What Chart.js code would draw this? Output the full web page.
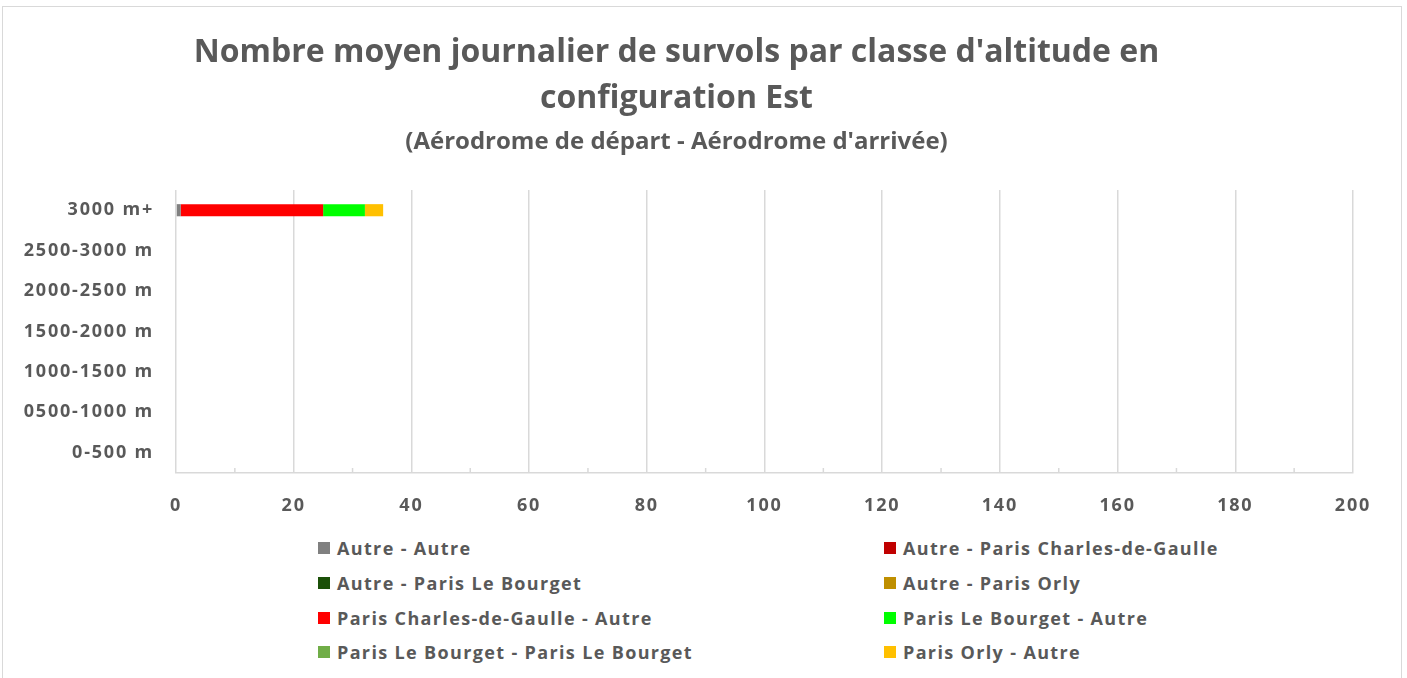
<!DOCTYPE html>
<html>
<head>
<meta charset="utf-8">
<script src="https://cdn.jsdelivr.net/npm/chart.js@4.4.0/dist/chart.umd.min.js"></script>
<style>
  body { margin: 0; background: #fff; font-family: 'Open Sans', sans-serif; }
  #wrap { position: relative; width: 1407px; height: 678px; overflow: hidden; }
  #frame { position: absolute; left: 2px; top: 6px; width: 1398px; height: 700px; border: 1px solid #d9d9d9; }
  #chart { position: absolute; left: 0; top: 0; }
  #legend { position: absolute; left: 318px; top: 531px; display: grid; grid-template-columns: 566px 440px; grid-auto-rows: 34.7px; }
  .item { display: flex; align-items: center; font: bold 18px 'Open Sans', sans-serif; letter-spacing: 1.35px; color: #595959; white-space: nowrap; }
  .box { width: 12px; height: 12px; margin-right: 7px; }
</style>
</head>
<body>
<div id="wrap">
  <div id="frame"></div>
  <canvas id="chart" width="1407" height="530"></canvas>
  <div id="legend"></div>
</div>
<script>
/* ===== Survols par classe d'altitude ===== */

const altitudeClasses = ['3000 m+', '2500-3000 m', '2000-2500 m', '1500-2000 m', '1000-1500 m', '0500-1000 m', '0-500 m'];

const seriesNames = [
  'Autre - Autre',
  'Autre - Paris Charles-de-Gaulle',
  'Autre - Paris Le Bourget',
  'Autre - Paris Orly',
  'Paris Charles-de-Gaulle - Autre',
  'Paris Le Bourget - Autre',
  'Paris Le Bourget - Paris Le Bourget',
  'Paris Orly - Autre'
];

const autreAutre        = [0.8, 0, 0, 0, 0, 0, 0];
const autreCdg          = [0, 0, 0, 0, 0, 0, 0];
const autreBourget      = [0, 0, 0, 0, 0, 0, 0];
const autreOrly         = [0, 0, 0, 0, 0, 0, 0];
const cdgAutre          = [24.2, 0, 0, 0, 0, 0, 0];
const bourgetAutre      = [7.1, 0, 0, 0, 0, 0, 0];
const bourgetBourget    = [0, 0, 0, 0, 0, 0, 0];
const orlyAutre         = [3.1, 0, 0, 0, 0, 0, 0];

const xTicks = [0, 20, 40, 60, 80, 100, 120, 140, 160, 180, 200];

const seriesValues = [autreAutre, autreCdg, autreBourget, autreOrly, cdgAutre, bourgetAutre, bourgetBourget, orlyAutre];
const seriesColors = ['#808080', '#c00000', '#1b5008', '#bf8f00', '#ff0000', '#00ff00', '#70ad47', '#ffc000'];

const textColor = '#595959';
const gridColor = '#d9d9d9';
const fontName = 'Open Sans';

// petits traits secondaires sur l'axe + espacement des lettres des graduations
const axisExtras = {
  id: 'axisExtras',
  afterDatasetsDraw(chart) {
    chart.ctx.letterSpacing = '1.8px';
  },
  afterDraw(chart) {
    const x = chart.scales.x;
    const ctx = chart.ctx;
    const bottom = chart.chartArea.bottom;
    ctx.letterSpacing = '0px';
    ctx.save();
    ctx.strokeStyle = gridColor;
    ctx.lineWidth = 1.5;
    for (let i = 0; i < xTicks.length - 1; i++) {
      const px = x.getPixelForValue((xTicks[i] + xTicks[i + 1]) / 2);
      ctx.beginPath();
      ctx.moveTo(px, bottom);
      ctx.lineTo(px, bottom - 5);
      ctx.stroke();
    }
    ctx.restore();
  }
};

const chart = new Chart(document.getElementById('chart').getContext('2d'), {
  type: 'bar',
  data: {
    labels: altitudeClasses,
    datasets: seriesNames.map((name, i) => ({
      label: name,
      data: seriesValues[i],
      backgroundColor: seriesColors[i],
      borderWidth: 0,
      barPercentage: 0.3,
      categoryPercentage: 1
    }))
  },
  options: {
    indexAxis: 'y',
    responsive: false,
    animation: false,
    devicePixelRatio: 1,
    layout: { padding: { left: 0, right: 54, top: 0, bottom: 0 } },
    scales: {
      x: {
        stacked: true,
        min: 0,
        max: 200,
        afterBuildTicks: scale => { scale.ticks = xTicks.map(v => ({ value: v })); },
        afterFit: scale => { scale.height = 57; },
        grid: { color: gridColor, lineWidth: 1.5, drawTicks: false },
        border: { display: true, color: gridColor, width: 1.5 },
        ticks: { z: 1, color: textColor, padding: 22, font: { family: fontName, size: 18, weight: 'bold' } }
      },
      y: {
        stacked: true,
        afterFit: scale => { scale.width = 176; },
        grid: { display: false, drawTicks: false },
        border: { display: false },
        ticks: { z: 1, color: textColor, padding: 22, font: { family: fontName, size: 18, weight: 'bold' } }
      }
    },
    plugins: {
      legend: { display: false },
      tooltip: { enabled: false },
      title: {
        display: true,
        text: ["Nombre moyen journalier de survols par classe d'altitude en", 'configuration Est'],
        color: textColor,
        font: { family: fontName, size: 32, weight: 'bold', lineHeight: 46 / 32 },
        padding: { top: 30, bottom: 4 }
      },
      subtitle: {
        display: true,
        text: "(Aérodrome de départ - Aérodrome d'arrivée)",
        color: textColor,
        font: { family: fontName, size: 24, weight: 'bold', lineHeight: 30 / 24 },
        padding: { top: 1, bottom: 33 }
      }
    }
  },
  plugins: [axisExtras]
});

// légende en deux colonnes, construite depuis les jeux de données
const legendEl = document.getElementById('legend');
chart.data.datasets.forEach(ds => {
  const item = document.createElement('div');
  item.className = 'item';
  item.innerHTML = `<span class="box" style="background:${ds.backgroundColor}"></span>${ds.label}`;
  legendEl.appendChild(item);
});
</script>
</body>
</html>
